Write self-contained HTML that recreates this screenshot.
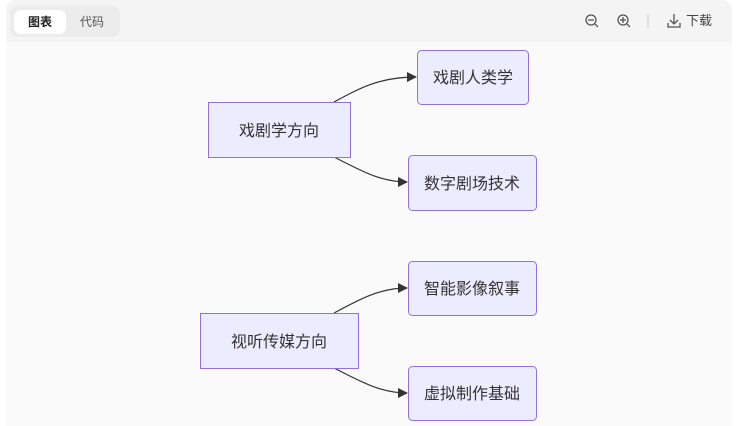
<!DOCTYPE html>
<html><head><meta charset="utf-8"><style>
body{margin:0;width:738px;height:426px;background:#fff;font-family:"Liberation Sans","Noto Sans CJK SC",sans-serif;position:relative;overflow:hidden}
.top{position:absolute;left:6px;top:0;width:726px;height:426px;background:#f4f4f4;border-radius:10px}
.canvas{position:absolute;left:6px;top:42px;width:726px;height:384px;background:#fafafa}
.tabs{position:absolute;left:10px;top:6px;width:110px;height:31px;background:#ececec;border-radius:8px}
.tab1{position:absolute;left:14px;top:10px;width:52px;height:24px;background:#fff;border-radius:7px;font-size:12px;line-height:24px;text-align:center;color:#222;font-weight:bold}
.tab2{position:absolute;left:80px;top:10px;font-size:12px;line-height:24px;color:#555}
.tb{position:absolute;top:12px;font-size:13px;color:#444}
</style></head><body>
<div class="top"></div>
<div class="canvas"></div>
<div class="tabs"></div>
<div class="tab1">图表</div>
<div class="tab2">代码</div>
<svg style="position:absolute;left:0;top:0" width="738" height="426">
<g fill="none" stroke="#555" stroke-width="1.3">
<circle cx="591" cy="20" r="5"/><line x1="588" y1="20" x2="594" y2="20"/><line x1="595" y1="24" x2="598" y2="27"/>
<circle cx="623" cy="20" r="5"/><line x1="620" y1="20" x2="626" y2="20"/><line x1="623" y1="17" x2="623" y2="23"/><line x1="627" y1="24" x2="630" y2="27"/>
<line x1="674" y1="14" x2="674" y2="24"/><polyline points="670,20 674,24 678,20"/><polyline points="668,23 668,27 680,27 680,23"/>
</g>
<line x1="648" y1="14" x2="648" y2="28" stroke="#ccc"/>
<text x="686" y="25" font-size="13" fill="#444" font-family="Liberation Sans,Noto Sans CJK SC,sans-serif">下载</text>
<defs><marker id="a" markerWidth="10" markerHeight="10" refX="9" refY="5" orient="auto" markerUnits="userSpaceOnUse"><path d="M0,0L10,5L0,10z" fill="#333"/></marker></defs>
<g fill="none" stroke="#333" stroke-width="1.2" marker-end="url(#a)">
<path d="M334,102 C360,88 380,77 416,77"/>
<path d="M334,157 C360,170 380,182 407,182"/>
<path d="M334,313 C360,299 380,288 407,288"/>
<path d="M334,368 C360,381 380,393 407,393"/>
</g>
<g fill="#ececff" stroke="#9370db" stroke-width="1">
<rect x="208.5" y="102.5" width="142" height="55"/>
<rect x="417.5" y="50.5" width="111" height="54" rx="4"/>
<rect x="408.5" y="155.5" width="128" height="55" rx="4"/>
<rect x="200.5" y="313.5" width="158" height="55"/>
<rect x="408.5" y="261.5" width="128" height="54" rx="4"/>
<rect x="408.5" y="366.5" width="128" height="54" rx="4"/>
</g>
<g font-size="16" fill="#333" text-anchor="middle" font-family="Liberation Sans,Noto Sans CJK SC,sans-serif">
<text x="279" y="136">戏剧学方向</text>
<text x="473" y="83">戏剧人类学</text>
<text x="472" y="189">数字剧场技术</text>
<text x="279" y="347">视听传媒方向</text>
<text x="472" y="294">智能影像叙事</text>
<text x="472" y="399">虚拟制作基础</text>
</g>
</svg>
</body></html>
